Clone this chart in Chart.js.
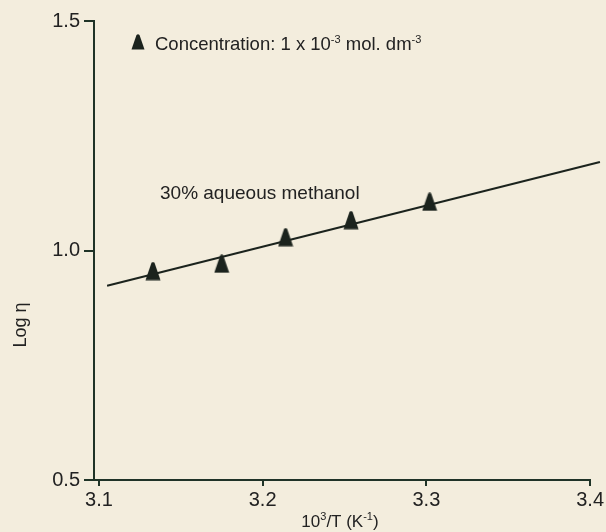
<!DOCTYPE html>
<html><head><meta charset="utf-8">
<script src="https://cdn.jsdelivr.net/npm/chart.js@4"></script>
<style>html,body{margin:0;padding:0;background:#f3eddd;}#wrap{width:606px;height:532px;position:relative;background:#f3eddd}</style>
</head><body><div id="wrap"><canvas id="c" width="606" height="532"></canvas></div>
<script>
// Data
const invT   = [3.133, 3.175, 3.214, 3.254, 3.302];   // 10^3/T (K^-1)
const logEta = [0.955, 0.971, 1.029, 1.066, 1.106];   // Log eta
const fitX   = [3.105, 3.406];                        // fitted line ends
const fitY   = [0.923, 1.193];
const xTicks = [3.1, 3.2, 3.3, 3.4];
const yTicks = [0.5, 1.0, 1.5];

const INK = '#1b231d';
const AXIS = '#1f3327';
const FONT = '"Liberation Sans", Arial, Helvetica, sans-serif';

function makeMarker(w, h) {
  const c = document.createElement('canvas');
  c.width = w; c.height = h;
  const g = c.getContext('2d');
  g.fillStyle = INK;
  g.beginPath();
  g.moveTo(w/2 - 1.5, 1);
  g.quadraticCurveTo(w/2, -0.5, w/2 + 1.5, 1);
  g.lineTo(w - 0.5, h - 0.5);
  g.lineTo(0.5, h - 0.5);
  g.closePath();
  g.fill();
  return c;
}
const marker = makeMarker(16, 19);
const legendMarker = makeMarker(14, 16);

function textRun(ctx, parts, x, y) {
  let cx = x;
  for (const [t, size, dy] of parts) {
    ctx.font = size + 'px ' + FONT;
    ctx.fillText(t, cx, y + dy);
    cx += ctx.measureText(t).width;
  }
  return cx - x;
}
function runWidth(ctx, parts) {
  let w = 0;
  for (const [t, size] of parts) { ctx.font = size + 'px ' + FONT; w += ctx.measureText(t).width; }
  return w;
}

const annot = {
  id: 'annot',
  beforeDraw(chart) {
    const ctx = chart.ctx;
    ctx.save();
    ctx.fillStyle = '#f3eddd';
    ctx.fillRect(0, 0, chart.width, chart.height);
    ctx.restore();
  },
  afterDraw(chart) {
    const ctx = chart.ctx;
    ctx.save();
    ctx.fillStyle = '#222';
    ctx.textBaseline = 'alphabetic';
    ctx.textAlign = 'left';
    // legend
    ctx.drawImage(legendMarker, 131, 34);
    textRun(ctx, [['Concentration: 1 x 10', 18.5, 0], ['-3', 11, -7], [' mol. dm', 18.5, 0], ['-3', 11, -7]], 155, 50);
    // series label
    ctx.font = '19px ' + FONT;
    ctx.fillText('30% aqueous methanol', 160, 199);
    // x title
    const xp = [['10', 17, 0], ['3', 11, -7], ['/T (K', 17, 0], ['-1', 11, -7], [')', 17, 0]];
    const w = runWidth(ctx, xp);
    textRun(ctx, xp, 340 - w/2, 527);
    // y title
    ctx.translate(26, 325);
    ctx.rotate(-Math.PI/2);
    ctx.font = '18px ' + FONT;
    ctx.textAlign = 'center';
    ctx.fillText('Log \u03B7', 0, 0);
    ctx.restore();
  }
};

new Chart(document.getElementById('c'), {
  type: 'scatter',
  data: {
    datasets: [
      {
        type: 'line',
        data: fitX.map((x, i) => ({x, y: fitY[i]})),
        borderColor: INK, borderWidth: 2, pointRadius: 0, fill: false, clip: false, order: 2
      },
      {
        data: invT.map((x, i) => ({x, y: logEta[i]})),
        pointStyle: marker, pointRadius: 9, backgroundColor: INK, borderColor: INK, order: 1
      }
    ]
  },
  options: {
    responsive: false, animation: false,
    layout: { padding: { top: 21, right: 13, left: 0, bottom: 0 } },
    plugins: { legend: { display: false }, tooltip: { enabled: false } },
    scales: {
      x: {
        type: 'linear', min: 3.097, max: 3.4,
        afterBuildTicks: s => { s.ticks = xTicks.map(v => ({value: v})); },
        afterFit: s => { s.height = 52; },
        border: { display: true, color: AXIS, width: 2 },
        grid: { drawOnChartArea: false, drawTicks: true, tickLength: 6, color: AXIS, lineWidth: 2 },
        ticks: { color: '#222', font: { family: FONT, size: 20 }, padding: 2, maxRotation: 0, callback: v => v.toFixed(1) }
      },
      y: {
        type: 'linear', min: 0.5, max: 1.5,
        afterBuildTicks: s => { s.ticks = yTicks.map(v => ({value: v})); },
        afterFit: s => { s.width = 94; },
        border: { display: true, color: AXIS, width: 2 },
        grid: { drawOnChartArea: false, drawTicks: true, tickLength: 10, color: AXIS, lineWidth: 2 },
        ticks: { color: '#222', font: { family: FONT, size: 20 }, padding: 4, callback: v => v.toFixed(1) }
      }
    }
  },
  plugins: [annot]
});
</script></body></html>
